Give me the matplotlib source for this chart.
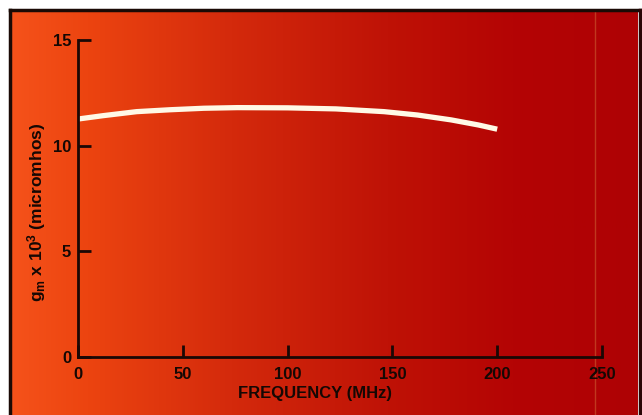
import numpy as np
import matplotlib.pyplot as plt
from matplotlib.colors import LinearSegmentedColormap

plt.rcParams['font.family'] = ['Liberation Sans', 'DejaVu Sans']
plt.rcParams['mathtext.fontset'] = 'custom'
plt.rcParams['mathtext.rm'] = 'Liberation Sans:bold'
plt.rcParams['mathtext.bf'] = 'Liberation Sans:bold'
plt.rcParams['mathtext.it'] = 'Liberation Sans:bold'
plt.rcParams['mathtext.default'] = 'bf'

# Transconductance vs frequency
freq_mhz = [0, 12, 28, 44, 60, 76, 100, 123, 146, 162, 178, 191, 200]
gm_micromhos = [11.26, 11.42, 11.61, 11.70, 11.77, 11.80, 11.79, 11.74,
                11.61, 11.45, 11.22, 10.98, 10.78]

x_ticks = [0, 50, 100, 150, 200, 250]
y_ticks = [0, 5, 10, 15]

W, H = 642, 415
fig = plt.figure(figsize=(W / 100, H / 100), dpi=100, facecolor='white')

# Background panel with the orange-to-red wash
bg = fig.add_axes([12 / W, 0, (638 - 12) / W, (H - 11) / H])
bg.set_axis_off()
cmap = LinearSegmentedColormap.from_list(
    'wash',
    [(0.0, '#f5521a'), (0.12, '#ec4410'), (0.35, '#d42a0c'),
     (0.6, '#bf1206'), (0.8, '#b40404'), (1.0, '#ae0204')])
grad = np.linspace(0, 1, 512)[None, :]
bg.imshow(grad, aspect='auto', cmap=cmap, extent=[0, 1, 0, 1])
bg.axvline((595 - 12) / (638 - 12), color='#c8502a', lw=1.0, alpha=0.7)
bg.set_xlim(0, 1)
bg.set_ylim(0, 1)

# Frame edges of the panel
fig.add_artist(plt.Line2D([10.5 / W, 10.5 / W], [0, (H - 10) / H], color='#1a0a05', lw=2.5))
fig.add_artist(plt.Line2D([10 / W, 640 / W], [(H - 10.5) / H, (H - 10.5) / H], color='#1a0a05', lw=2.5))
fig.add_artist(plt.Line2D([639.5 / W, 639.5 / W], [0, (H - 10) / H], color='#2a0505', lw=2.5))

ax = fig.add_axes([78 / W, (H - 357) / H, (602 - 78) / W, (357 - 40) / H])
ax.patch.set_alpha(0)
ax.plot(freq_mhz, gm_micromhos, color='#fff9e6', lw=3.8,
        solid_capstyle='butt', solid_joinstyle='round')

ax.set_xlim(0, 250)
ax.set_ylim(0, 15)
ax.set_xticks(x_ticks)
ax.set_yticks(y_ticks)
for s in ['top', 'right']:
    ax.spines[s].set_visible(False)
for s in ['left', 'bottom']:
    ax.spines[s].set_color('#1a0805')
    ax.spines[s].set_linewidth(2.0)
ax.tick_params(direction='in', length=9, width=2, color='#1a0805',
               labelsize=12, labelcolor='#150804')
ax.tick_params(axis='x', pad=7)
ax.tick_params(axis='y', pad=5)
for lab in ax.get_xticklabels() + ax.get_yticklabels():
    lab.set_fontweight('bold')

ax.set_xlabel('FREQUENCY (MHz)', fontsize=12, fontweight='bold', color='#150804')
ax.xaxis.set_label_coords((315 - 78) / (602 - 78), -(393 - 357) / (357 - 40), transform=ax.transAxes)
ax.xaxis.label.set_va('center')
ax.set_ylabel(r'g$_{m}$ x 10$^{3}$ (micromhos)', fontsize=12.5, fontweight='bold',
              color='#150804')
ax.yaxis.set_label_coords(-(78 - 37) / (602 - 78), (357 - 212) / (357 - 40), transform=ax.transAxes)
ax.yaxis.label.set_va('center')

fig.savefig('out.png', dpi=100, facecolor='white')
